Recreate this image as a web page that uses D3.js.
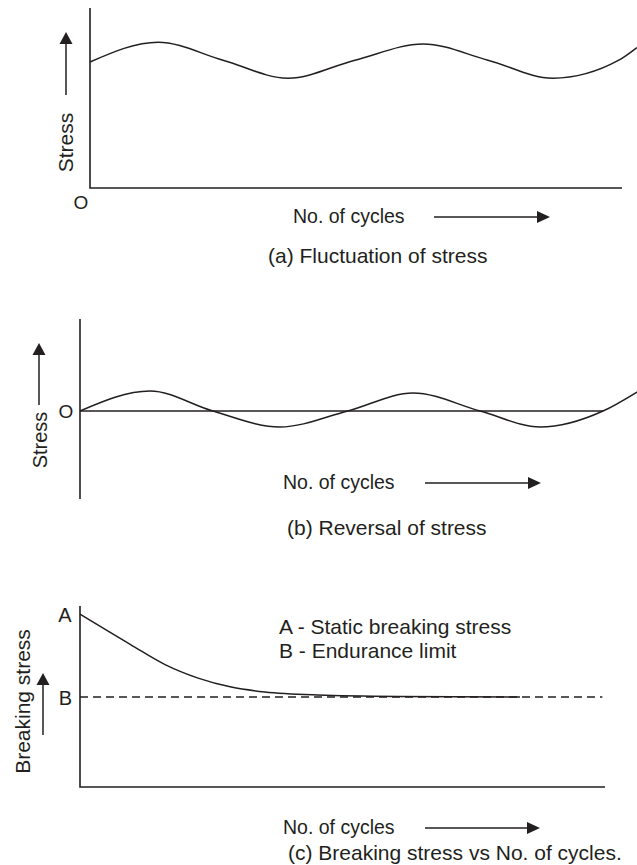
<!DOCTYPE html>
<html>
<head>
<meta charset="utf-8">
<script src="https://cdn.jsdelivr.net/npm/d3@7/dist/d3.min.js"></script>
<style>
  html, body { margin: 0; padding: 0; background: #fff; }
  svg { display: block; }
  text { font-family: "Liberation Sans", Arial, Helvetica, sans-serif; fill: #231f20; }
</style>
</head>
<body>
<svg id="fig" width="637" height="865"></svg>
<script>
// (a) Fluctuating stress: number of cycles vs stress
const cyclesA = [0, 12.8, 25.0, 37.2, 49.8, 62.6, 74.8, 87.0, 99.4, 102.8];
const stressA = [7.0, 8.1, 7.1, 6.1, 7.1, 8.0, 7.1, 6.1, 7.1, 7.8];

// (b) Reversed stress about zero
const cyclesB = [0, 13.4, 25.4, 38.2, 51.2, 63.7, 76.5, 88.0, 100, 106.5];
const stressB = [0, 2.0, 0, -1.6, 0, 1.8, 0, -1.6, 0, 1.9];

// (c) Breaking stress falling towards the endurance limit
const cyclesC = [0, 9.7, 16.2, 22.5, 28.8, 35.2, 45.3, 60.6, 83.8];
const breakingC = [9.6, 7.9, 6.8, 6.05, 5.55, 5.28, 5.11, 5.03, 5.0];
const staticBreaking = 9.6;   // A
const enduranceLimit = 5.0;   // B

const legendLines = ["A - Static breaking stress", "B - Endurance limit"];
const captions = ["(a) Fluctuation of stress", "(b) Reversal of stress", "(c) Breaking stress vs No. of cycles."];
const xTitle = "No. of cycles";

const ink = "#231f20";
const svg = d3.select("#fig");

function arrowRight(x1, x2, y) {
  svg.append("line").attr("x1", x1).attr("x2", x2 - 12).attr("y1", y).attr("y2", y)
    .attr("stroke", ink).attr("stroke-width", 1.5);
  svg.append("path").attr("d", `M${x2},${y} L${x2 - 13},${y - 6} L${x2 - 13},${y + 6} Z`).attr("fill", ink);
}
function arrowUp(x, y1, y2) {
  svg.append("line").attr("x1", x).attr("x2", x).attr("y1", y1).attr("y2", y2 + 11)
    .attr("stroke", ink).attr("stroke-width", 1.5);
  svg.append("path").attr("d", `M${x},${y2} L${x - 6.5},${y2 + 12} L${x + 6.5},${y2 + 12} Z`).attr("fill", ink);
}
function label(txt, x, y, size, anchor, rotate) {
  const t = svg.append("text").text(txt).attr("font-size", size)
    .attr("text-anchor", anchor || "start");
  if (rotate) t.attr("transform", `translate(${x},${y}) rotate(-90)`);
  else t.attr("x", x).attr("y", y);
  return t;
}
function curve(xs, ys, x, y) {
  const pts = xs.map((d, i) => [x(d), y(ys[i])]);
  svg.append("path").attr("d", d3.line().curve(d3.curveMonotoneX)(pts))
    .attr("fill", "none").attr("stroke", ink).attr("stroke-width", 1.5);
}

// ---------- panel (a) ----------
{
  const x = d3.scaleLinear().domain([0, 100]).range([90, 622]);
  const y = d3.scaleLinear().domain([0, 10]).range([188, 8]);
  svg.append("path").attr("d", `M${x(0)},${y(10)} V${y(0)} H${x(100)}`)
    .attr("fill", "none").attr("stroke", ink).attr("stroke-width", 1.6);
  curve(cyclesA, stressA, x, y);
  label("O", 81, 209, 19, "middle");
  label("Stress", 73, 142.5, 21, "middle", true);
  arrowUp(66, 95, 32);
  label(xTitle, 293, 223, 19.5);
  arrowRight(434, 550, 217);
  label(captions[0], 268, 263, 21);
}

// ---------- panel (b) ----------
{
  const x = d3.scaleLinear().domain([0, 100]).range([80, 603]);
  const y = d3.scaleLinear().domain([-8.8, 9.2]).range([499, 319]);
  svg.append("line").attr("x1", x(0)).attr("x2", x(0)).attr("y1", y(9.2)).attr("y2", y(-8.8))
    .attr("stroke", ink).attr("stroke-width", 1.6);
  svg.append("line").attr("x1", x(0)).attr("x2", x(100)).attr("y1", y(0)).attr("y2", y(0))
    .attr("stroke", ink).attr("stroke-width", 1.6);
  curve(cyclesB, stressB, x, y);
  label("O", 66, 418, 19, "middle");
  label("Stress", 47, 440, 20, "middle", true);
  arrowUp(39, 405, 343);
  label(xTitle, 283, 489, 19.5);
  arrowRight(425, 541, 483);
  label(captions[1], 287, 535, 21);
}

// ---------- panel (c) ----------
{
  const x = d3.scaleLinear().domain([0, 100]).range([80, 605]);
  const y = d3.scaleLinear().domain([0, 10]).range([787, 607]);
  svg.append("path").attr("d", `M${x(0)},${y(10.05)} V${y(0)} H${x(100)}`)
    .attr("fill", "none").attr("stroke", ink).attr("stroke-width", 1.6);
  svg.append("line").attr("x1", x(0)).attr("x2", x(99.5))
    .attr("y1", y(enduranceLimit)).attr("y2", y(enduranceLimit))
    .attr("stroke", ink).attr("stroke-width", 1.4).attr("stroke-dasharray", "8,5");
  curve(cyclesC, breakingC, x, y);
  label("A", 65, y(staticBreaking) + 8, 20, "middle");
  label("B", 65.5, y(enduranceLimit) + 8, 20, "middle");
  label("Breaking stress", 30, 701.5, 21, "middle", true);
  arrowUp(43, 735, 673);
  legendLines.forEach((t, i) => label(t, 279, 634 + i * 24, 21));
  label(xTitle, 283, 834, 19.5);
  arrowRight(425, 540, 828);
  label(captions[2], 288, 860, 21);
}
</script>
</body>
</html>
